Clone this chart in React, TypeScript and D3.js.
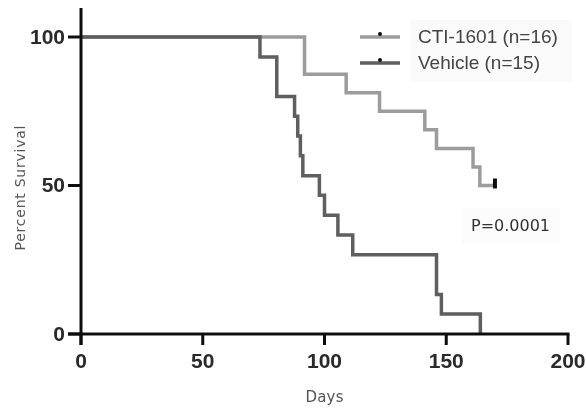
import React from "react";
import * as d3 from "d3";

const xTicks = [0, 50, 100, 150, 200];
const yTicks = [0, 50, 100];

const vehicleTimes = [73.5, 80.4, 87.7, 89, 90.1, 91.1, 97.9, 100, 105.5, 111.6, 146, 148, 164];
const vehicleSurvival = [93.3, 80, 73.3, 66.7, 60, 53.3, 46.7, 40, 33.3, 26.7, 13.3, 6.7, 0];

const ctiTimes = [91.8, 108.9, 122.6, 141.2, 146, 161, 163.8];
const ctiSurvival = [87.5, 81.25, 75, 68.75, 62.5, 56.25, 50];
const ctiCensorTime = 170;

const legendLabels = ["CTI-1601 (n=16)", "Vehicle (n=15)"];
const pValueLabel = "P=0.0001";

export default function App() {
  const W = 586, H = 410;
  const x = d3.scaleLinear().domain([0, 200]).range([81, 568]);
  const y = d3.scaleLinear().domain([0, 100]).range([334, 37]);

  const line = d3
    .line<[number, number]>()
    .x((d) => x(d[0]))
    .y((d) => y(d[1]))
    .curve(d3.curveStepAfter);

  const vehPts: [number, number][] = [[0, 100], ...vehicleTimes.map((t, i) => [t, vehicleSurvival[i]] as [number, number])];
  const ctiPts: [number, number][] = [
    [0, 100],
    ...ctiTimes.map((t, i) => [t, ctiSurvival[i]] as [number, number]),
    [ctiCensorTime, ctiSurvival[ctiSurvival.length - 1]],
  ];

  const ctiColor = "#9c9c9c";
  const vehColor = "#5e5e5e";
  const axisColor = "#111";
  const tickFont = "'Liberation Sans', Arial, sans-serif";
  const labelFont = "'DejaVu Sans', sans-serif";

  return (
    <svg
      width={W}
      height={H}
      viewBox={`0 0 ${W} ${H}`}
      style={{ position: "absolute", left: 0, top: 0, background: "#fff" }}
    >
      <defs>
        <filter id="soft" x="-5%" y="-5%" width="110%" height="110%">
          <feGaussianBlur stdDeviation="0.6" />
        </filter>
      </defs>
      <rect width={W} height={H} fill="#fff" />
      <g filter="url(#soft)">
        {/* faint boxes behind legend and p-value */}
        <rect x={410} y={20} width={162} height={62} fill="#fafafa" />
        <rect x={462} y={208} width={98} height={36} fill="#fcfcfc" />

        {/* curves */}
        <path d={line(ctiPts) || ""} fill="none" stroke={ctiColor} strokeWidth={3.5} />
        <path d={line(vehPts) || ""} fill="none" stroke={vehColor} strokeWidth={3.5} />
        {/* censor mark */}
        <line
          x1={x(ctiCensorTime)}
          x2={x(ctiCensorTime)}
          y1={y(ctiSurvival[ctiSurvival.length - 1]) - 7}
          y2={y(ctiSurvival[ctiSurvival.length - 1]) + 3}
          stroke="#111"
          strokeWidth={4}
        />

        {/* axes */}
        <line x1={x(0)} x2={x(0)} y1={8} y2={y(0) + 11} stroke={axisColor} strokeWidth={3} />
        <line x1={x(0) - 13} x2={x(200) + 1.5} y1={y(0)} y2={y(0)} stroke={axisColor} strokeWidth={3} />
        {xTicks.map((t) => (
          <g key={"xt" + t}>
            <line x1={x(t)} x2={x(t)} y1={y(0)} y2={y(0) + 11} stroke={axisColor} strokeWidth={3} />
            <text
              x={x(t)}
              y={362}
              textAnchor="middle"
              dominantBaseline="middle"
              fontFamily={tickFont}
              fontWeight="bold"
              fontSize={21}
              fill="#2a2a2a"
            >
              {t}
            </text>
          </g>
        ))}
        {yTicks.map((t) => (
          <g key={"yt" + t}>
            <line x1={x(0) - 13} x2={x(0)} y1={y(t)} y2={y(t)} stroke={axisColor} strokeWidth={3} />
            <text
              x={65}
              y={y(t) + 1}
              textAnchor="end"
              dominantBaseline="middle"
              fontFamily={tickFont}
              fontWeight="bold"
              fontSize={21}
              fill="#2a2a2a"
            >
              {t}
            </text>
          </g>
        ))}

        {/* axis titles */}
        <text
          x={0}
          y={0}
          transform="translate(21,188) rotate(-90)"
          textAnchor="middle"
          dominantBaseline="middle"
          fontFamily={labelFont}
          fontSize={14}
          textLength={125}
          lengthAdjust="spacing"
          fill="#555"
        >
          Percent Survival
        </text>
        <text
          x={x(100) - 19}
          y={397}
          dominantBaseline="middle"
          fontFamily={labelFont}
          fontSize={15}
          textLength={38}
          lengthAdjust="spacing"
          fill="#555"
        >
          Days
        </text>

        {/* legend */}
        {legendLabels.map((lab, i) => {
          const ly = 37 + i * 26;
          const c = i === 0 ? ctiColor : vehColor;
          return (
            <g key={lab}>
              <line x1={360} x2={400} y1={ly} y2={ly} stroke={c} strokeWidth={3.5} />
              <circle cx={380} cy={ly - 3} r={2} fill="#111" />
              <text
                x={418}
                y={ly + 1}
                dominantBaseline="middle"
                fontFamily={tickFont}
                fontSize={19}
                fill="#444"
              >
                {lab}
              </text>
            </g>
          );
        })}

        {/* p value */}
        <text
          x={471}
          y={226}
          dominantBaseline="middle"
          fontFamily={labelFont}
          fontSize={16}
          fill="#333"
        >
          {pValueLabel}
        </text>
      </g>
    </svg>
  );
}
